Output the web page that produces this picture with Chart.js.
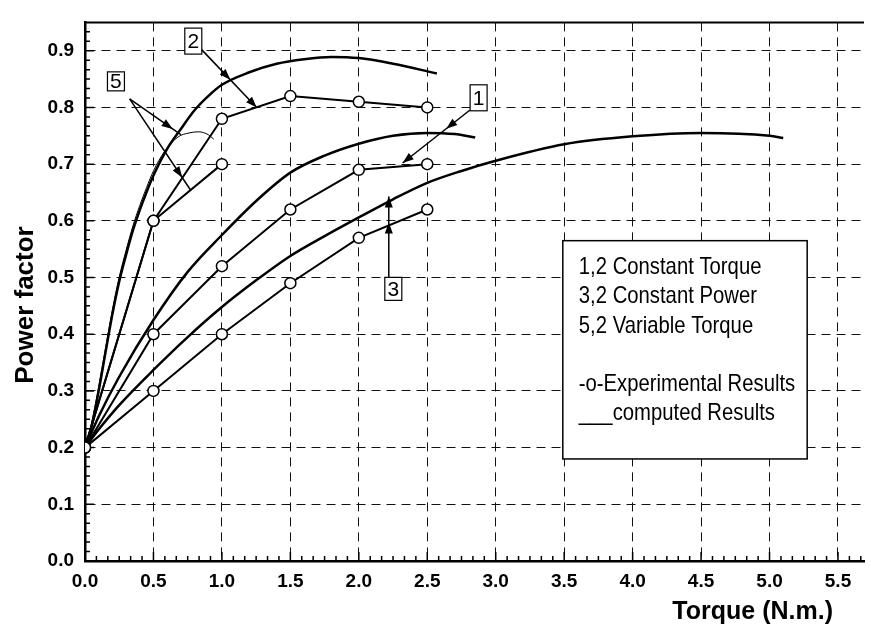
<!DOCTYPE html>
<html>
<head>
<meta charset="utf-8">
<title>Power factor vs torque</title>
<script src="https://cdn.jsdelivr.net/npm/chart.js@4.4.1/dist/chart.umd.min.js"></script>
<style>
  html, body { margin: 0; padding: 0; background: #fff; }
  #wrap { width: 871px; height: 630px; position: relative; }
</style>
</head>
<body>
<div id="wrap"><canvas id="pfChart"></canvas></div>
<script>
// experimental results (-o-)
const expTorque = [0, 0.5, 1.0, 1.5, 2.0, 2.5];
const exp2 = [0.20, 0.60, 0.78, 0.82, 0.81, 0.80];
const exp1 = [0.20, 0.40, 0.52, 0.62, 0.69, 0.70];
const exp3 = [0.20, 0.30, 0.40, 0.49, 0.57, 0.62];
const exp5Torque = [0, 0.5, 1.0];
const exp5 = [0.20, 0.60, 0.70];

// computed results (solid)
const calc2Torque = [0, 0.05, 0.1, 0.15, 0.2, 0.25, 0.3, 0.35, 0.4, 0.45, 0.5, 0.6, 0.7, 0.8, 0.9, 1.0, 1.2, 1.4, 1.6, 1.8, 2.0, 2.25, 2.57];
const calc2 = [0.20, 0.24, 0.30, 0.368, 0.435, 0.493, 0.54, 0.583, 0.619, 0.651, 0.68, 0.727, 0.762, 0.795, 0.82, 0.84, 0.862, 0.877, 0.885, 0.889, 0.887, 0.877, 0.86];
const calc5Torque = [0, 0.05, 0.1, 0.15, 0.2, 0.25, 0.3, 0.35, 0.4, 0.45, 0.5, 0.58, 0.68, 0.76, 0.83, 0.9, 0.94];
const calc5 = [0.20, 0.245, 0.308, 0.376, 0.443, 0.501, 0.548, 0.591, 0.627, 0.659, 0.688, 0.722, 0.748, 0.755, 0.757, 0.752, 0.744];
const calc1Torque = [0, 0.1, 0.25, 0.5, 0.75, 1.0, 1.25, 1.5, 1.75, 2.0, 2.25, 2.5, 2.7, 2.85];
const calc1 = [0.20, 0.255, 0.325, 0.425, 0.51, 0.575, 0.635, 0.685, 0.715, 0.736, 0.75, 0.755, 0.753, 0.747];
const calc3Torque = [0, 0.1, 0.25, 0.5, 0.75, 1.0, 1.25, 1.5, 1.75, 2.0, 2.25, 2.5, 2.75, 3.0, 3.5, 4.0, 4.5, 5.0, 5.1];
const calc3 = [0.20, 0.232, 0.275, 0.337, 0.395, 0.448, 0.495, 0.538, 0.573, 0.606, 0.638, 0.667, 0.688, 0.706, 0.735, 0.749, 0.755, 0.75, 0.746];

// numbered callouts (data units): box centre, arrow line, arrow head positions (fraction along line)
const callouts = [
  { text: '2', box: [0.791, 0.917], h: 26, lines: [{ from: [0.852, 0.902], to: [1.254, 0.800], heads: [0.52, 1] }] },
  { text: '5', box: [0.226, 0.846], h: 19, lines: [
      { from: [0.326, 0.815], to: [0.70, 0.752], heads: [0.84] },
      { from: [0.326, 0.815], to: [0.772, 0.654], heads: [0.86] } ] },
  { text: '1', box: [2.875, 0.817], h: 26, lines: [{ from: [2.81, 0.795], to: [2.32, 0.702], heads: [0.35, 1] }] },
  { text: '3', box: [2.252, 0.480], h: 23, lines: [{ from: [2.219, 0.499], to: [2.219, 0.643], heads: [0.68, 1] }] }
];

const legendLines = ['1,2 Constant Torque', '3,2 Constant Power', '5,2 Variable Torque', '', '-o-Experimental Results', '___computed Results'];

const FONT = "'Liberation Sans', Arial, Helvetica, sans-serif";

function pts(xs, ys) {
  return xs.map((x, i) => ({ x: x, y: ys[i] }));
}

function expSet(xs, ys) {
  return {
    data: pts(xs, ys),
    showLine: true,
    borderColor: '#000',
    borderWidth: 2,
    pointRadius: 5.5,
    pointBackgroundColor: '#fff',
    pointBorderColor: '#000',
    pointBorderWidth: 1.5,
    tension: 0
  };
}

function calcSet(xs, ys, width) {
  return {
    data: pts(xs, ys),
    showLine: true,
    borderColor: '#000',
    borderWidth: width,
    pointRadius: 0,
    cubicInterpolationMode: 'monotone'
  };
}

function arrowHead(ctx, x, y, ang) {
  const len = 11, half = 4;
  ctx.beginPath();
  ctx.moveTo(x, y);
  ctx.lineTo(x - len * Math.cos(ang) + half * Math.sin(ang), y - len * Math.sin(ang) - half * Math.cos(ang));
  ctx.lineTo(x - len * Math.cos(ang) - half * Math.sin(ang), y - len * Math.sin(ang) + half * Math.cos(ang));
  ctx.closePath();
  ctx.fill();
}

// inner ticks (major + minor, 6 divisions) and the top frame line
const frameTicks = {
  id: 'frameTicks',
  beforeDatasetsDraw(chart) {
    const { ctx, chartArea: a, scales: { x, y } } = chart;
    ctx.save();
    ctx.strokeStyle = '#000';
    ctx.lineWidth = 1.5;
    ctx.beginPath();
    for (let i = 1; i * 0.5 / 6 <= x.max; i++) {
      const px = x.getPixelForValue(i * 0.5 / 6);
      const len = i % 6 === 0 ? 9 : 5;
      ctx.moveTo(px, a.bottom);
      ctx.lineTo(px, a.bottom - len);
    }
    for (let i = 1; i * 0.1 / 6 <= y.max; i++) {
      const py = y.getPixelForValue(i * 0.1 / 6);
      const len = i % 6 === 0 ? 9 : 5;
      ctx.moveTo(a.left, py);
      ctx.lineTo(a.left + len, py);
    }
    ctx.stroke();
    ctx.lineWidth = 2;
    ctx.beginPath();
    ctx.moveTo(a.left - 1, a.top);
    ctx.lineTo(a.right, a.top);
    ctx.stroke();
    ctx.restore();
  }
};

const notes = {
  id: 'notes',
  afterDraw(chart) {
    const { ctx, chartArea: a, scales: { x, y } } = chart;
    ctx.save();
    ctx.fillStyle = '#000';
    ctx.strokeStyle = '#000';

    // callout arrows and numbered boxes
    callouts.forEach(c => {
      c.lines.forEach(l => {
        const x0 = x.getPixelForValue(l.from[0]), y0 = y.getPixelForValue(l.from[1]);
        const x1 = x.getPixelForValue(l.to[0]), y1 = y.getPixelForValue(l.to[1]);
        const ang = Math.atan2(y1 - y0, x1 - x0);
        ctx.lineWidth = 1.5;
        ctx.beginPath();
        ctx.moveTo(x0, y0);
        ctx.lineTo(x1, y1);
        ctx.stroke();
        l.heads.forEach(f => arrowHead(ctx, x0 + (x1 - x0) * f, y0 + (y1 - y0) * f, ang));
      });
      const bx = x.getPixelForValue(c.box[0]), by = y.getPixelForValue(c.box[1]);
      const w = 17, h = c.h;
      ctx.fillStyle = '#fff';
      ctx.fillRect(bx - w / 2, by - h / 2, w, h);
      ctx.lineWidth = 1.2;
      ctx.strokeRect(bx - w / 2, by - h / 2, w, h);
      ctx.fillStyle = '#000';
      ctx.font = '21px ' + FONT;
      ctx.textAlign = 'center';
      ctx.textBaseline = 'middle';
      ctx.fillText(c.text, bx, by + 1);
    });

    // legend box
    const lx0 = x.getPixelForValue(3.49), lx1 = x.getPixelForValue(5.275);
    const ly0 = y.getPixelForValue(0.565), ly1 = y.getPixelForValue(0.18);
    ctx.fillStyle = '#fff';
    ctx.fillRect(lx0, ly0, lx1 - lx0, ly1 - ly0);
    ctx.lineWidth = 1.5;
    ctx.strokeRect(lx0, ly0, lx1 - lx0, ly1 - ly0);
    ctx.fillStyle = '#000';
    ctx.font = '24px ' + FONT;
    ctx.textAlign = 'left';
    ctx.textBaseline = 'alphabetic';
    legendLines.forEach((t, i) => {
      if (!t) return;
      ctx.save();
      ctx.translate(lx0 + 16, ly0 + 33.7 + i * 29.1);
      ctx.scale(0.845, 1);
      ctx.fillText(t, 0, 0);
      ctx.restore();
    });

    // axis titles
    ctx.font = 'bold 25px ' + FONT;
    ctx.textAlign = 'right';
    ctx.fillText('Torque (N.m.)', a.right - 31, 619);
    ctx.save();
    ctx.translate(33, 305);
    ctx.rotate(-Math.PI / 2);
    ctx.font = 'bold 26px ' + FONT;
    ctx.textAlign = 'center';
    ctx.fillText('Power factor', 0, 0);
    ctx.restore();

    ctx.restore();
  }
};

const ctx = document.getElementById('pfChart').getContext('2d');

new Chart(ctx, {
  type: 'scatter',
  data: {
    datasets: [
      expSet(expTorque, exp2),
      expSet(exp5Torque, exp5),
      expSet(expTorque, exp1),
      expSet(expTorque, exp3),
      calcSet(calc2Torque, calc2, 2.5),
      calcSet(calc5Torque, calc5, 1),
      calcSet(calc1Torque, calc1, 2.5),
      calcSet(calc3Torque, calc3, 2.5)
    ]
  },
  options: {
    responsive: true,
    maintainAspectRatio: false,
    animation: false,
    layout: { padding: { top: 10, right: 0, bottom: 0, left: 0 } },
    plugins: {
      legend: { display: false },
      tooltip: { enabled: false }
    },
    scales: {
      x: {
        type: 'linear',
        min: 0,
        max: 5.69,
        afterFit: s => { s.height = 69; },
        ticks: {
          stepSize: 0.5,
          includeBounds: false,
          padding: 9,
          color: '#000',
          font: { family: FONT, size: 19, weight: 'bold' },
          callback: v => v.toFixed(1)
        },
        grid: { color: '#111', lineWidth: 1, drawTicks: false },
        border: { display: true, color: '#000', width: 2.5, dash: [9, 6] }
      },
      y: {
        min: 0,
        max: 0.95,
        afterFit: s => { s.width = 85; },
        ticks: {
          stepSize: 0.1,
          includeBounds: false,
          padding: 11,
          color: '#000',
          font: { family: FONT, size: 19, weight: 'bold' },
          callback: v => v.toFixed(1)
        },
        grid: { color: '#111', lineWidth: 1, drawTicks: false },
        border: { display: true, color: '#000', width: 2.5, dash: [9, 6] }
      }
    }
  },
  plugins: [frameTicks, notes]
});
</script>
</body>
</html>
